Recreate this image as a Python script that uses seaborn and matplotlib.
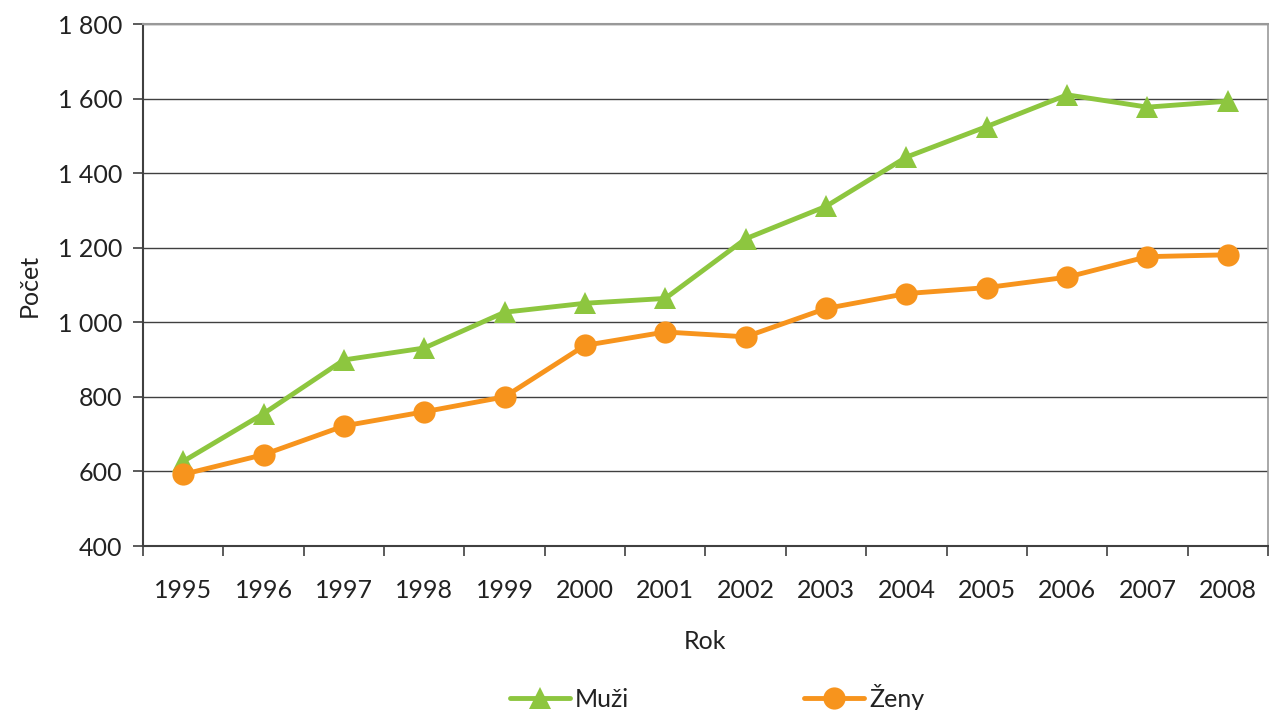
import matplotlib
matplotlib.use("Agg")
import matplotlib.pyplot as plt
import seaborn as sns
import pandas as pd
import numpy as np
from matplotlib.ticker import FixedLocator, NullFormatter, FuncFormatter

years = ["1995", "1996", "1997", "1998", "1999", "2000", "2001",
         "2002", "2003", "2004", "2005", "2006", "2007", "2008"]
muzi = [627, 755, 899, 931, 1027, 1051, 1064, 1224, 1311, 1443, 1525, 1610, 1577, 1593]
zeny = [592, 645, 722, 760, 800, 938, 974, 961, 1037, 1077, 1093, 1121, 1176, 1181]
series_names = ["Muži", "Ženy"]
yticks = [400, 600, 800, 1000, 1200, 1400, 1600, 1800]

df = pd.DataFrame({
    "Rok": list(range(len(years))) * 2,
    "Počet": muzi + zeny,
    "Pohlaví": [series_names[0]] * len(years) + [series_names[1]] * len(years),
})

sns.set_style("white")
plt.rcParams["font.family"] = ["Lato", "DejaVu Sans"]

fig = plt.figure(figsize=(12.69, 7.10), dpi=100)
ax = fig.add_axes([143 / 1269, 1 - 546 / 710, (1268 - 143) / 1269, (546 - 24) / 710])

green = "#8DC63F"
orange = "#F7941D"
sns.lineplot(data=df, x="Rok", y="Počet", hue="Pohlaví", style="Pohlaví",
             markers={"Muži": "^", "Ženy": "o"}, dashes=False,
             palette={"Muži": green, "Ženy": orange},
             linewidth=3.5, markersize=16, markeredgewidth=0, ax=ax, legend=True)

ax.set_xlim(-0.5, len(years) - 0.5)
ax.set_ylim(400, 1800)
ax.set_yticks(yticks)
ax.yaxis.set_major_formatter(FuncFormatter(lambda v, p: f"{int(v):,}".replace(",", " ")))
ax.grid(axis="y", color="#404040", linewidth=1)
ax.set_axisbelow(True)

ax.xaxis.set_major_locator(FixedLocator(np.arange(-0.5, len(years), 1.0)))
ax.xaxis.set_major_formatter(NullFormatter())
ax.xaxis.set_minor_locator(FixedLocator(np.arange(len(years))))
ax.set_xticklabels(years, minor=True)
ax.tick_params(axis="x", which="major", direction="out", length=7, width=1.2, color="#404040", bottom=True)
ax.tick_params(axis="x", which="minor", length=0, pad=24, labelsize=18, labelcolor="#222222")
ax.tick_params(axis="y", direction="out", length=7, width=1.2, color="#404040", left=True,
               labelsize=18, labelcolor="#222222", pad=8)

for s in ["left", "bottom"]:
    ax.spines[s].set_color("#404040")
    ax.spines[s].set_linewidth(1.5)
ax.spines["top"].set_color("#999999")
ax.spines["top"].set_linewidth(1.5)
ax.spines["right"].set_color("#999999")
ax.spines["right"].set_linewidth(1.2)

ax.set_xlabel("Rok", fontsize=18, color="#222222", labelpad=20)
ax.set_ylabel("Počet", fontsize=18, color="#222222", labelpad=12)

handles, labels = ax.get_legend_handles_labels()
ax.get_legend().remove()
fig.legend(handles, labels, loc="center", bbox_to_anchor=(0.565, 0.018), ncol=2,
           frameon=False, fontsize=18, columnspacing=7.0, handlelength=2.4,
           handletextpad=0.2, labelcolor="#222222")

fig.savefig("out.png", dpi=100)
